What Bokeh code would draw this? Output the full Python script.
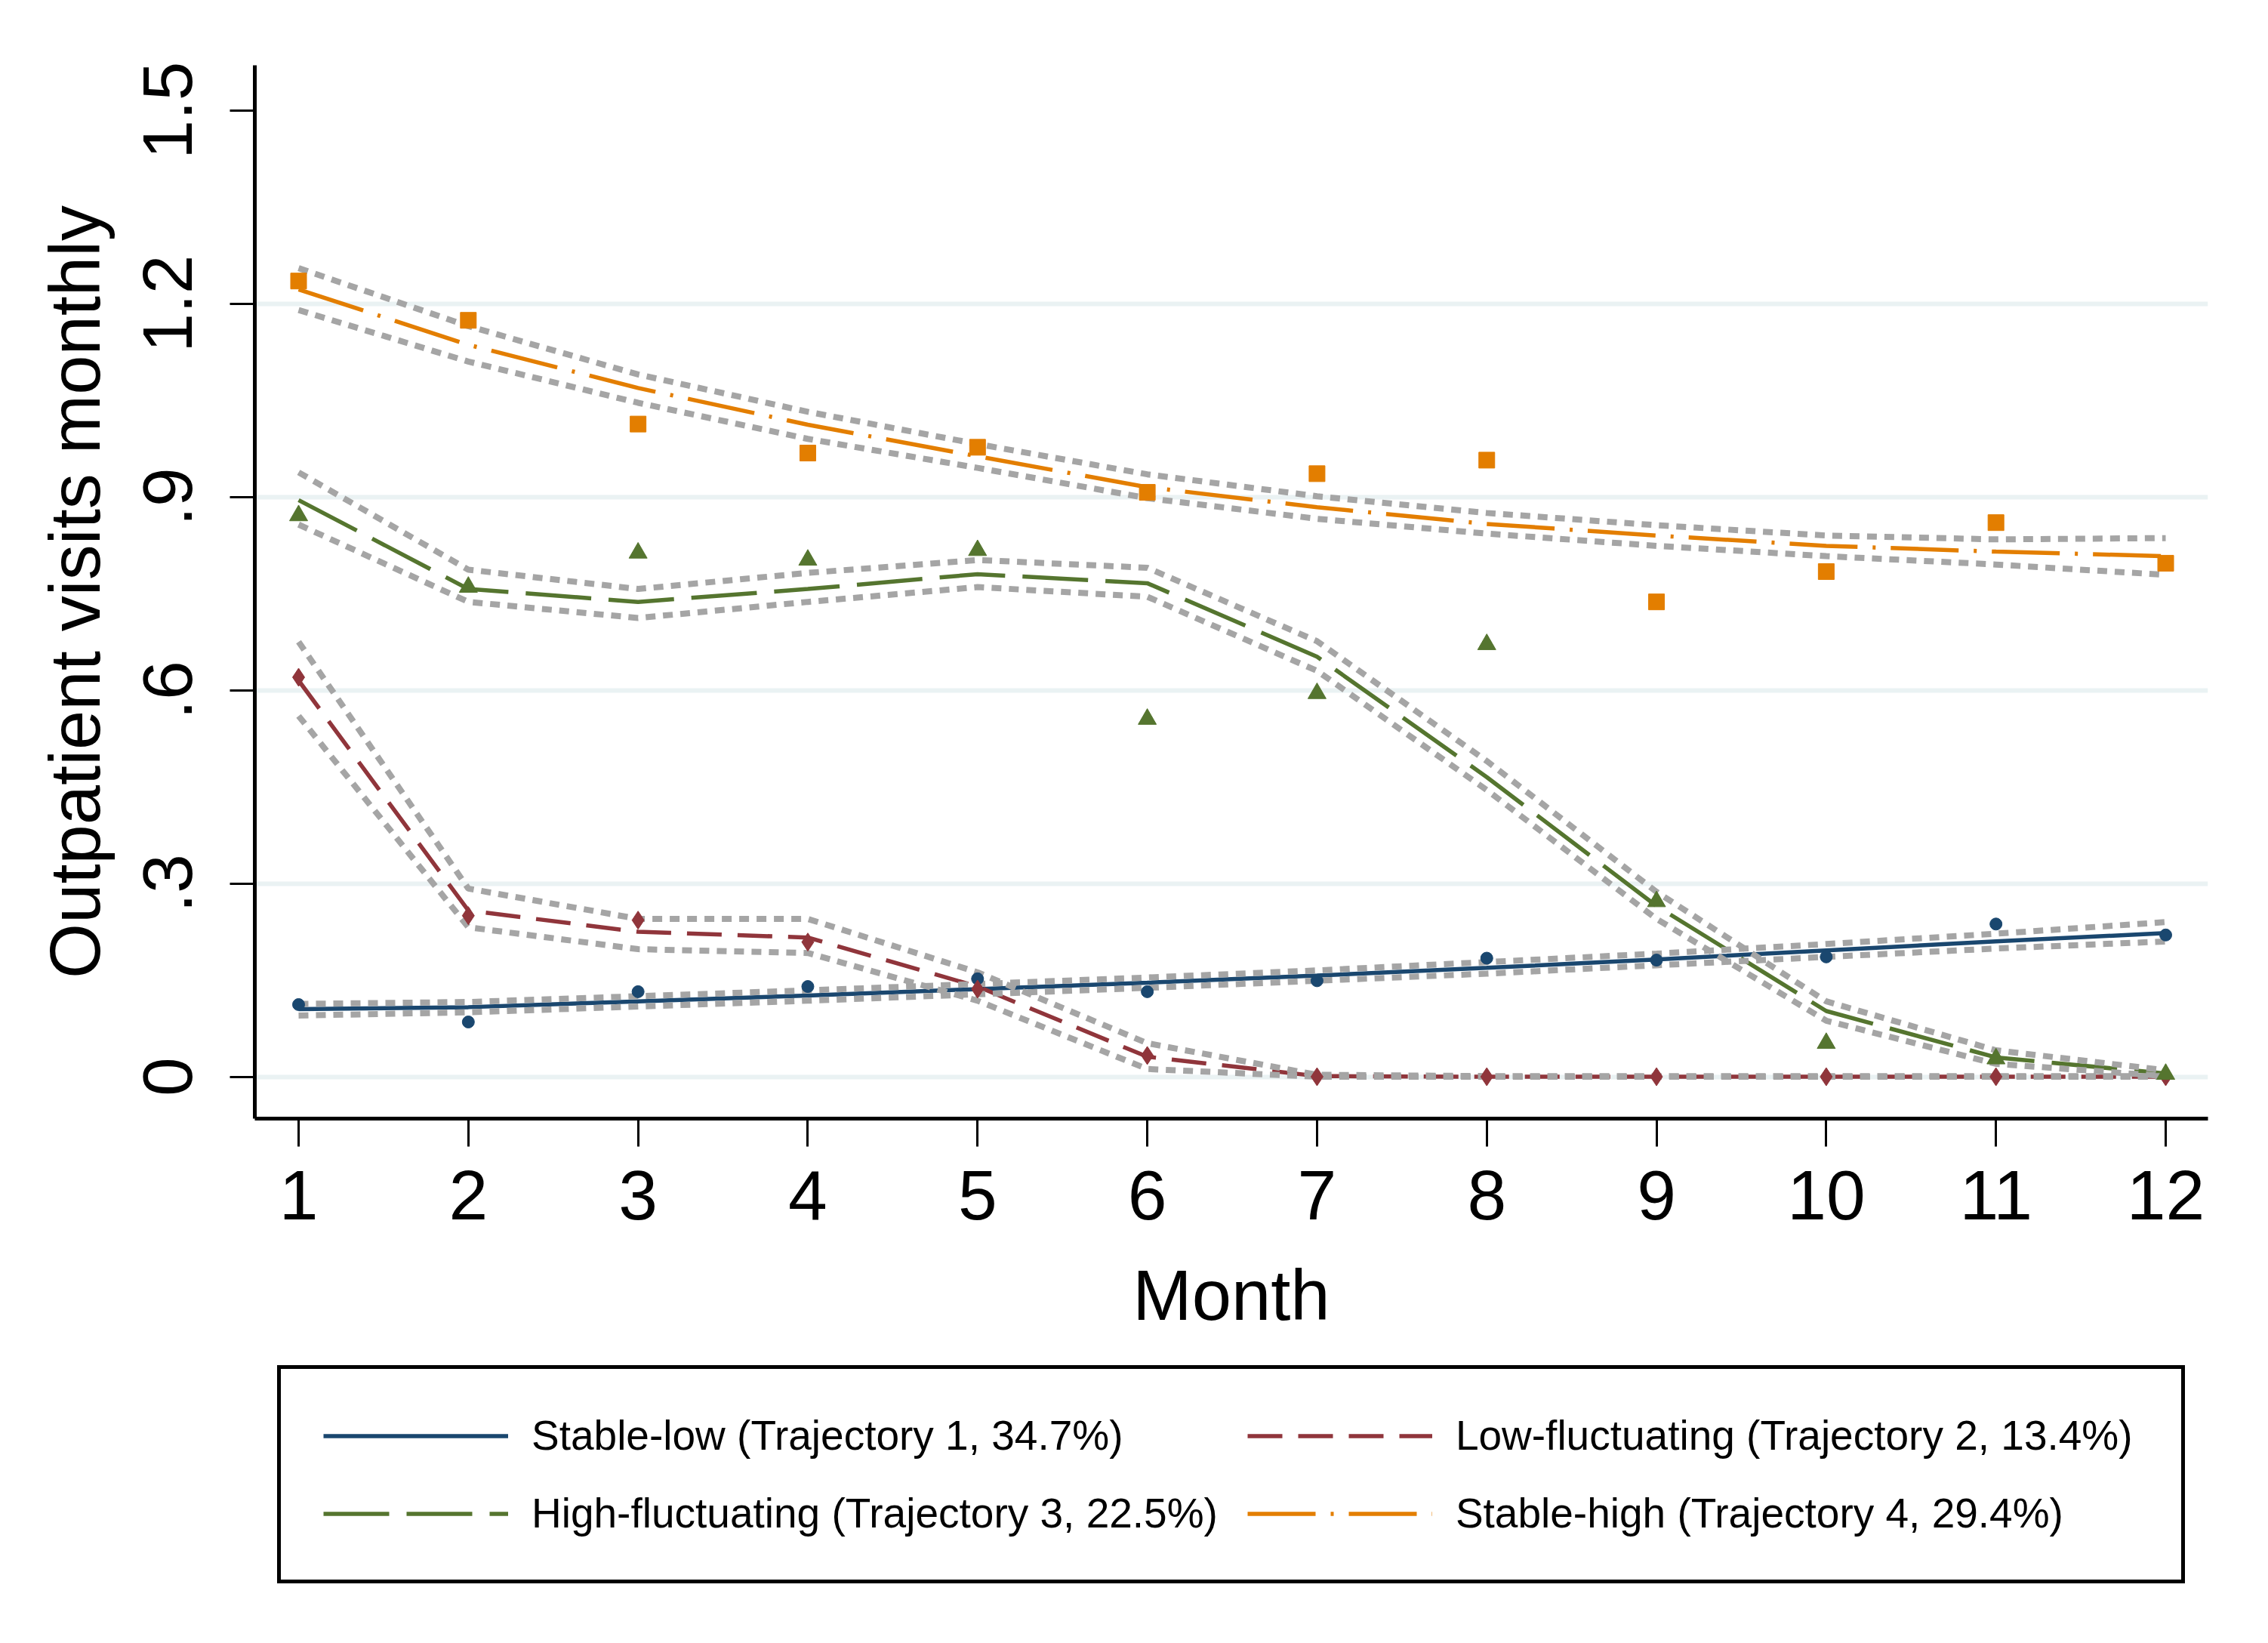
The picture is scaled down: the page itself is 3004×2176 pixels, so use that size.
from bokeh.plotting import figure
from bokeh.models import Legend, LegendItem, FixedTicker, Range1d
from bokeh.layouts import column
from bokeh.embed import file_html
from bokeh.resources import INLINE

months = [1, 2, 3, 4, 5, 6, 7, 8, 9, 10, 11, 12]

# Trajectory 1: Stable-low
t1_pred = [0.105, 0.108, 0.117, 0.126, 0.136, 0.146, 0.157, 0.169, 0.182, 0.196, 0.210, 0.223]
t1_upper = [0.113, 0.116, 0.125, 0.134, 0.144, 0.154, 0.165, 0.178, 0.191, 0.206, 0.222, 0.240]
t1_lower = [0.095, 0.100, 0.109, 0.118, 0.128, 0.138, 0.149, 0.160, 0.173, 0.186, 0.199, 0.210]
t1_obs = [0.112, 0.085, 0.132, 0.140, 0.152, 0.132, 0.149, 0.184, 0.181, 0.186, 0.237, 0.220]

# Trajectory 2: Low-fluctuating
t2_pred = [0.615, 0.258, 0.225, 0.216, 0.140, 0.031, 0.001, 0.0, 0.0, 0.0, 0.0, 0.0]
t2_upper = [0.675, 0.292, 0.245, 0.245, 0.162, 0.052, 0.003, 0.001, 0.001, 0.001, 0.001, 0.001]
t2_lower = [0.560, 0.232, 0.198, 0.192, 0.118, 0.012, 0.0, 0.0, 0.0, 0.0, 0.0, 0.0]
t2_obs = [0.620, 0.250, 0.243, 0.209, 0.136, 0.033, 0.0, 0.0, 0.0, 0.0, 0.0, 0.0]

# Trajectory 3: High-fluctuating
t3_pred = [0.895, 0.757, 0.737, 0.757, 0.780, 0.766, 0.652, 0.465, 0.265, 0.102, 0.030, 0.005]
t3_upper = [0.938, 0.787, 0.757, 0.782, 0.802, 0.790, 0.676, 0.490, 0.287, 0.117, 0.041, 0.010]
t3_lower = [0.857, 0.737, 0.712, 0.737, 0.760, 0.745, 0.630, 0.445, 0.245, 0.087, 0.020, 0.001]
t3_obs = [0.871, 0.760, 0.813, 0.802, 0.817, 0.555, 0.595, 0.671, 0.272, 0.052, 0.028, 0.004]

# Trajectory 4: Stable-high
t4_pred = [1.222, 1.136, 1.069, 1.012, 0.963, 0.915, 0.884, 0.858, 0.840, 0.824, 0.815, 0.808]
t4_upper = [1.255, 1.165, 1.090, 1.032, 0.982, 0.935, 0.901, 0.875, 0.856, 0.840, 0.834, 0.836]
t4_lower = [1.190, 1.110, 1.046, 0.990, 0.945, 0.898, 0.866, 0.843, 0.824, 0.808, 0.795, 0.779]
t4_obs = [1.235, 1.174, 1.013, 0.968, 0.977, 0.907, 0.936, 0.957, 0.737, 0.784, 0.860, 0.797]

labels = [
    "Stable-low (Trajectory 1, 34.7%)",
    "Low-fluctuating (Trajectory 2, 13.4%)",
    "High-fluctuating (Trajectory 3, 22.5%)",
    "Stable-high (Trajectory 4, 29.4%)",
]
y_ticks = [0, 0.3, 0.6, 0.9, 1.2, 1.5]
y_tick_labels = ["0", ".3", ".6", ".9", "1.2", "1.5"]
grid_ticks = [0, 0.3, 0.6, 0.9, 1.2]

colors = ["#1a476f", "#90353b", "#55752f", "#e37e00"]
dashes = ["solid", "46 21", "87 23", "90 20 4 20"]
markers = ["circle", "diamond", "triangle", "square"]
msizes = [16, 24, 24, 21]
ci_color = "#a5a5a5"
FONT = "Liberation Sans"
W = 2988
H1 = 1808
H2 = 352

p = figure(width=W, height=H1, output_backend="svg", toolbar_location=None,
           x_range=Range1d(0.742, 12.249), y_range=Range1d(-0.065, 1.5698),
           min_border_left=337, min_border_right=W - 2924, min_border_top=86,
           min_border_bottom=H1 - 1481)
p.outline_line_color = None
p.background_fill_color = "white"
p.border_fill_color = "white"

# grid
p.xgrid.visible = False
p.ygrid.ticker = FixedTicker(ticks=grid_ticks)
p.ygrid.grid_line_color = "#eaf2f3"
p.ygrid.grid_line_width = 6

# axes
for ax in (p.xaxis[0], p.yaxis[0]):
    ax.axis_line_width = 5
    ax.axis_line_color = "black"
    ax.major_tick_line_width = 3
    ax.major_tick_line_color = "black"
    ax.major_tick_in = 0
    ax.minor_tick_line_color = None
    ax.major_label_text_font = FONT
    ax.major_label_text_font_size = "93px"
    ax.major_label_text_color = "black"
    ax.axis_label_text_font = FONT
    ax.axis_label_text_font_size = "94px"
    ax.axis_label_text_font_style = "normal"
    ax.axis_label_text_color = "black"

p.xaxis.ticker = FixedTicker(ticks=months)
p.xaxis.major_tick_out = 37
p.xaxis.major_label_standoff = 32
p.xaxis.axis_label = "Month"
p.xaxis.axis_label_standoff = 45

p.yaxis.ticker = FixedTicker(ticks=y_ticks)
p.yaxis.major_label_overrides = {t: l for t, l in zip(y_ticks, y_tick_labels)}
p.yaxis.major_label_orientation = "vertical"
p.yaxis.major_tick_out = 33
p.yaxis.major_label_standoff = 50
p.yaxis.axis_label = "Outpatient visits monthly"
p.yaxis.axis_label_standoff = 36

series = [
    (t1_pred, t1_upper, t1_lower, t1_obs),
    (t2_pred, t2_upper, t2_lower, t2_obs),
    (t3_pred, t3_upper, t3_lower, t3_obs),
    (t4_pred, t4_upper, t4_lower, t4_obs),
]

for (pred, up, lo, obs), c, d in zip(series, colors, dashes):
    p.line(months, pred, line_color=c, line_width=5.5, line_dash=d)

for (pred, up, lo, obs) in series:
    p.line(months, up, line_color=ci_color, line_width=8, line_dash="13 10")
    p.line(months, lo, line_color=ci_color, line_width=8, line_dash="13 10")

for (pred, up, lo, obs), c, m, s in zip(series, colors, markers, msizes):
    p.scatter(months, obs, marker=m, size=s, fill_color=c, line_color=c)

# legend panel (separate figure below the plot; its frame is aligned with the plot's)
p2 = figure(width=W, height=H2, output_backend="svg", toolbar_location=None,
            x_axis_type=None, y_axis_type=None, x_range=Range1d(0, 1), y_range=Range1d(0, 1),
            min_border=0)
p2.outline_line_color = None
p2.background_fill_color = "white"
p2.border_fill_color = "white"

legend_renderers = []
for (pred, up, lo, obs), c, d in zip(series, colors, dashes):
    legend_renderers.append(p2.line(months, pred, line_color=c, line_width=5.5,
                                    line_dash=d, visible=False))

legend = Legend(
    items=[LegendItem(label=l, renderers=[r]) for l, r in zip(labels, legend_renderers)],
    ncols=2, orientation="horizontal", location=(30, 63),
    label_text_font=FONT, label_text_font_size="55px", label_text_color="black",
    glyph_width=245, glyph_height=63, spacing=39, padding=56, label_standoff=31,
    label_width=905,
    border_line_color="black", border_line_width=5, border_line_alpha=1.0, margin=0,
    background_fill_color="white", background_fill_alpha=1.0,
    inactive_fill_alpha=0.0,
)
p2.add_layout(legend)

layout = column(p, p2, spacing=0)
open("out.html", "w").write(file_html(layout, INLINE))
